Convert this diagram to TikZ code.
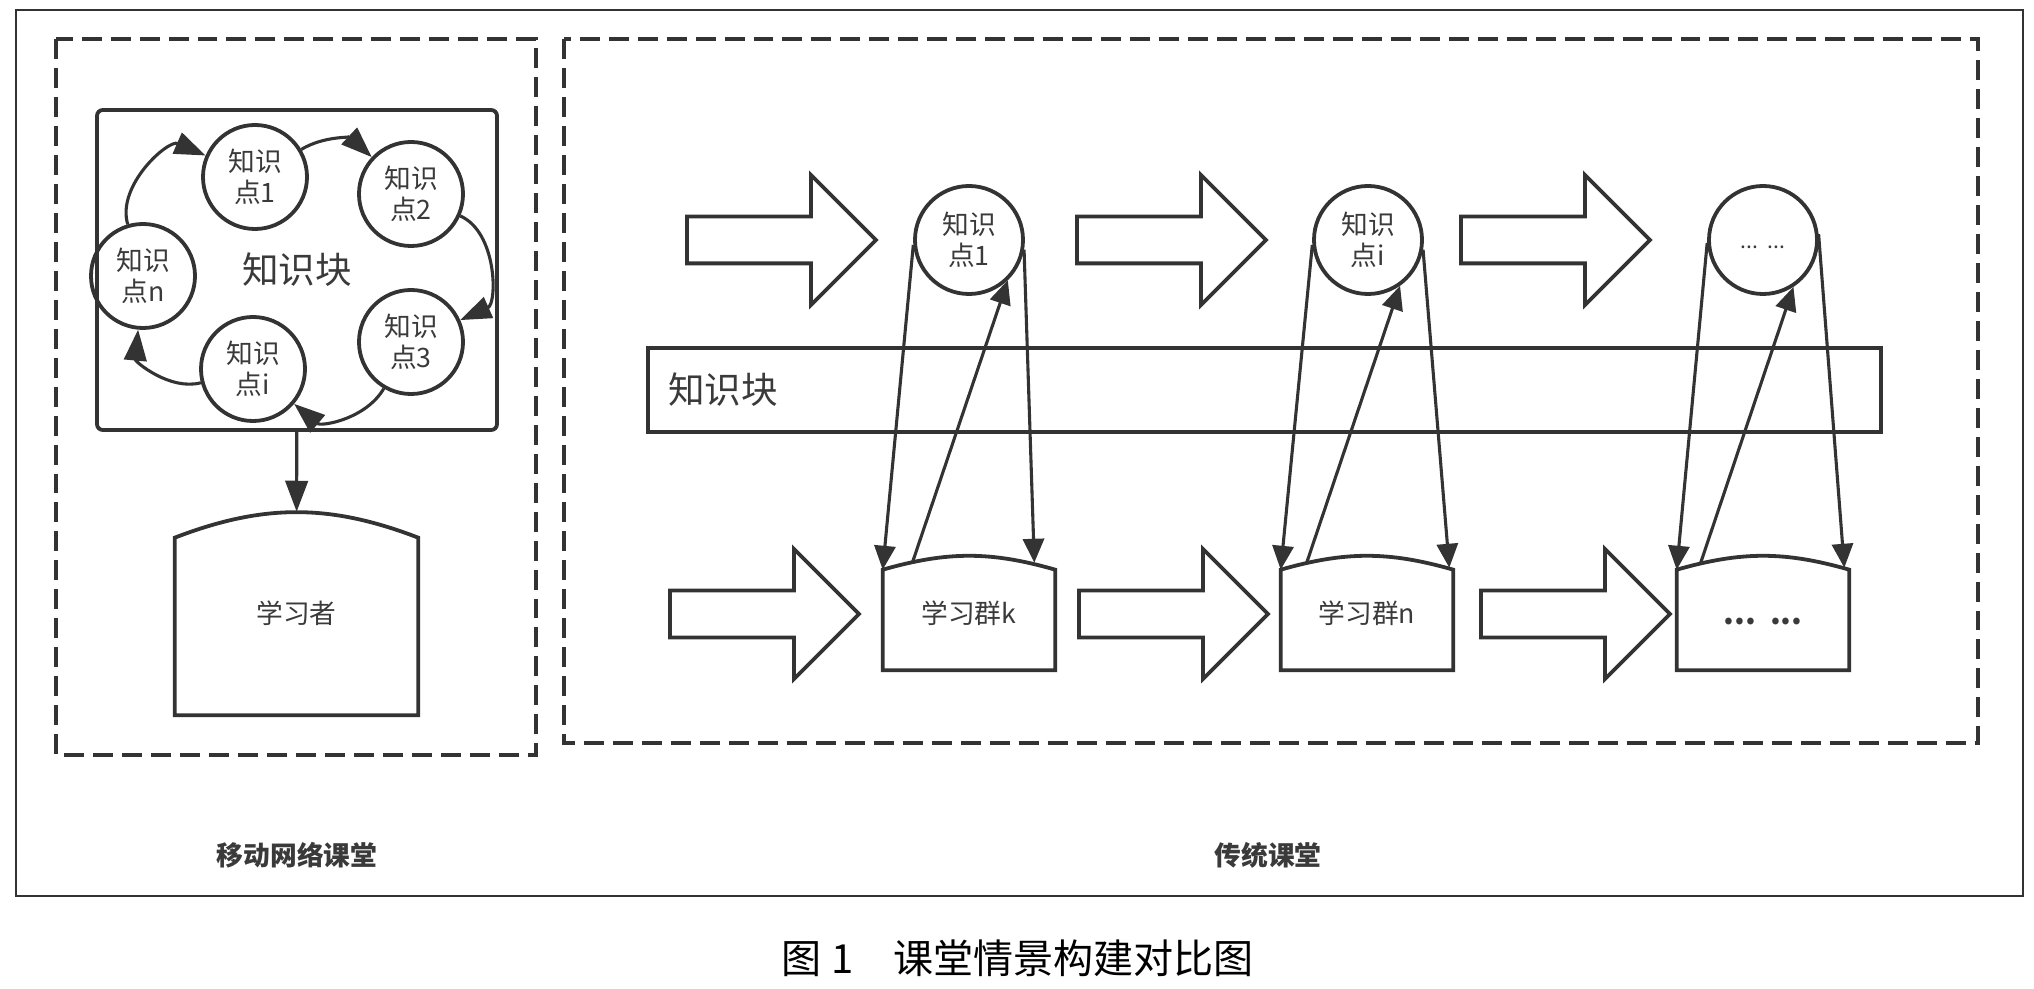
\documentclass[tikz,border=0pt]{standalone}
\usepackage{fontspec}
\setmainfont{Noto Sans CJK SC}
\usetikzlibrary{arrows.meta, shapes.arrows, positioning}
\definecolor{LineGray}{HTML}{333333}
\definecolor{InkGray}{HTML}{3A3A3A}
\tikzset{
  shapeline/.style={draw=LineGray, line width=2.7pt},
  kpoint/.style={circle, shapeline, minimum size=2.6cm, inner sep=0pt, align=center,
                 text=InkGray, font=\fontsize{19}{22.5}\selectfont},
  kblock/.style={shapeline, rounded corners=0.15cm, minimum width=10cm, minimum height=8cm,
                 text=InkGray, font=\fontsize{26}{30}\selectfont},
  learner/.style={inner sep=0pt, text=InkGray, font=\fontsize{19}{22}\selectfont},
  band/.style={shapeline, line width=2.9pt, minimum width=30.825cm, minimum height=2.1cm},
  bigtext/.style={inner sep=0pt, text=InkGray, font=\fontsize{26}{30}\selectfont},
  blockarrow/.style={single arrow, shapeline, single arrow tip angle=90,
                     single arrow head extend=1.0375cm, minimum width=3.15cm,
                     minimum height=4.725cm, inner xsep=0pt, inner ysep=0.5375cm, anchor=tail},
  flow/.style={draw=LineGray, line width=2.2pt, -{Triangle[length=17pt,width=15pt]}},
  loopflow/.style={flow, -{Triangle[length=22pt,width=16pt]}},
  dashframe/.style={draw=LineGray, line width=3pt, dash pattern=on 14.2pt off 6.4pt},
  seclabel/.style={text=InkGray, font=\fontsize{19}{22}\selectfont\bfseries},
}
% box with an arched top: node name, drop of the side tops, bend angle
\newcommand\humpbox[3]{%
  \draw[shapeline] ([yshift=-#2]#1.north west) to[bend left=#3] ([yshift=-#2]#1.north east)
    -- (#1.south east) -- (#1.south west) -- cycle;}

\begin{document}
\begin{tikzpicture}[x=0.025cm, y=0.025cm]
\useasboundingbox (0,0) rectangle (2034,988);
\fill[white] (0,0) rectangle (2034,988);

% frames
\draw[draw=LineGray, line width=1.6pt] (16,978) rectangle (2023,92);
\draw[dashframe] (56,949) rectangle (536,233);
\draw[dashframe] (564,949) rectangle (1978,245);

% mobile network classroom
\node[kblock] (blk) at (297,718) {知识块};
\node[kpoint] (m1) at (255,811) {知识\\点1};
\node[kpoint] (m2) at (411,794) {知识\\点2};
\node[kpoint] (m3) at (411,646) {知识\\点3};
\node[kpoint] (mi) at (253,619) {知识\\点i};
\node[kpoint] (mn) at (143,712) {知识\\点n};
\draw[loopflow] (m1) to[bend left=37] (m2);
\draw[loopflow] (m2) to[bend left=66] (m3);
\draw[loopflow] (m3) to[bend left=50] (mi);
\draw[loopflow] (mi) to[bend left=55] (mn);
\draw[loopflow] (mn) to[bend left=65] (m1);

\node[learner, minimum width=6.075cm, minimum height=5.075cm] (lrn) at (296.5,374.5) {学习者};
\humpbox{lrn}{0.65cm}{21}
\draw[loopflow] (blk) -- (lrn);

\node[seclabel] (mlabel) at (297,133) {移动网络课堂};

% traditional classroom
\node[blockarrow] (ta1) at (685,748) {};
\node[blockarrow] (ta2) at (1075,748) {};
\node[blockarrow] (ta3) at (1459,748) {};
\node[blockarrow] (ba1) at (668,374) {};
\node[blockarrow] (ba2) at (1077,374) {};
\node[blockarrow] (ba3) at (1479,374) {};

\node[band] (band) at (1264.5,598) {};
\node[bigtext, anchor=west] (bandlbl) at ([xshift=0.55cm]band.west) {知识块};

\node[kpoint, minimum size=2.7cm] (kp1) at (969,748) {知识\\点1};
\node[kpoint, minimum size=2.7cm] (kpi) at (1368,748) {知识\\点i};
\node[kpoint, minimum size=2.7cm, font=\fontsize{15}{17}\selectfont] (kpd) at (1763,748) {\vphantom{知}...~~...};

\node[learner, minimum width=4.3cm, minimum height=2.85cm] (gk) at (969,375) {学习群k};
\node[learner, minimum width=4.3cm, minimum height=2.85cm] (gn) at (1367,375) {学习群n};
\node[learner, minimum width=4.3cm, minimum height=2.85cm, font=\fontsize{22}{24}\selectfont] (gd) at (1763,375) {\vphantom{知}\textbf{...~~...}};
\humpbox{gk}{0.35cm}{16}
\humpbox{gn}{0.35cm}{16}
\humpbox{gd}{0.35cm}{16}

\draw[flow] (kp1.185) -- ([yshift=-0.35cm]gk.north west);
\draw[flow] (kp1.-10) -- ([shift={(-21,-7)}]gk.north east);
\draw[flow] ([shift={(30,-6)}]gk.north west) -- (kp1.-46);

\draw[flow] (kpi.185) -- ([yshift=-0.35cm]gn.north west);
\draw[flow] (kpi.-10) -- ([shift={(-4,-12)}]gn.north east);
\draw[flow] ([shift={(26,-7)}]gn.north west) -- (kpi.-55);

\draw[flow] (kpd.183) -- ([yshift=-0.35cm]gd.north west);
\draw[flow] (kpd.6) -- ([shift={(-5,-12)}]gd.north east);
\draw[flow] ([shift={(24,-7)}]gd.north west) -- (kpd.-57);

\node[seclabel] (tlabel) at (1268,133) {传统课堂};

% caption
\node[text=black, font=\fontsize{28.5}{32}\selectfont] (cap) at (1018,30) {图 1\quad 课堂情景构建对比图};
\end{tikzpicture}
\end{document}
